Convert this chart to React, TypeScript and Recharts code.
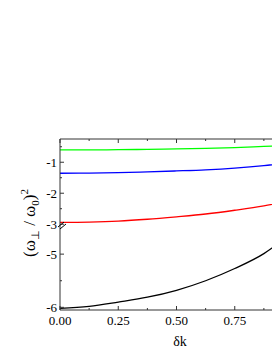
import React from 'react';
import { LineChart, Line, XAxis, YAxis } from 'recharts';

// δk sample points and the four branches
const DK = [0, 0.125, 0.25, 0.375, 0.5, 0.625, 0.75, 0.875, 1.0];
const GREEN = [-0.6, -0.6, -0.595, -0.585, -0.57, -0.555, -0.53, -0.49, -0.45];
const BLUE = [-1.355, -1.35, -1.335, -1.31, -1.28, -1.245, -1.19, -1.11, -1.0];
const RED = [-2.94, -2.93, -2.9, -2.84, -2.76, -2.67, -2.55, -2.41, -2.22];
const BLACK = [-6.02, -5.98, -5.9, -5.81, -5.68, -5.5, -5.27, -4.99, -4.58];

const X_TICKS = [0, 0.125, 0.25, 0.375, 0.5, 0.625, 0.75, 0.875, 1.0];
const X_LABELS = [0, 0.25, 0.5, 0.75];
const UPPER_TICKS = [-3, -2.5, -2, -1.5, -1, -0.5];
const LOWER_TICKS = [-6, -5.5, -5];

// broken y axis: two value ranges
const UPPER_DOMAIN = [-3.09, -0.25];
const LOWER_DOMAIN = [-6.05, -4.49];

const rows = DK.map((dk, i) => ({
  dk,
  green: GREEN[i],
  blue: BLUE[i],
  red: RED[i],
  black: BLACK[i],
}));

const FONT = '"Liberation Serif", "Times New Roman", serif';
const AXIS = '#333';

function YTick(props: any) {
  const { x, y, payload } = props;
  const v = payload.value;
  const major = Number.isInteger(v);
  return (
    <g>
      <line x1={x} y1={y} x2={x + (major ? 4 : 2)} y2={y} stroke={AXIS} />
      {major && (
        <text x={x - 3} y={y} dy={4.5} textAnchor="end" fontSize={13} fontFamily={FONT} fill="#000">
          {String(v)}
        </text>
      )}
    </g>
  );
}

function isMajorX(v: number) {
  return Math.abs(v * 4 - Math.round(v * 4)) < 1e-6;
}

function XTickBottom(props: any) {
  const { x, y, payload } = props;
  const v = payload.value;
  const major = isMajorX(v);
  return (
    <g>
      <line x1={x} y1={y} x2={x} y2={y - (major ? 4 : 2)} stroke={AXIS} />
      {X_LABELS.includes(v) && (
        <text x={x} y={y + 15} textAnchor="middle" fontSize={13} fontFamily={FONT} fill="#000">
          {v.toFixed(2)}
        </text>
      )}
    </g>
  );
}

function XTickTop(props: any) {
  const { x, y, payload } = props;
  const major = isMajorX(payload.value);
  return <line x1={x} y1={y} x2={x} y2={y + (major ? 4 : 2)} stroke={AXIS} />;
}

export default function App() {
  return (
    <div style={{ position: 'absolute', left: 0, top: 0, width: 272, height: 352, overflow: 'hidden', background: '#fff' }}>
      {/* upper segment: -3 .. -0.25 */}
      <div style={{ position: 'absolute', left: 0, top: 0 }}>
        <LineChart width={300} height={240} data={rows} margin={{ top: 109, right: 7, bottom: 13, left: 0 }}>
          <XAxis
            dataKey="dk"
            type="number"
            orientation="top"
            height={30}
            domain={[0, 1]}
            ticks={X_TICKS}
            interval={0}
            tickSize={0}
            tickMargin={0}
            tickLine={false}
            tick={(p: any) => <XTickTop {...p} />}
            axisLine={{ stroke: AXIS }}
          />
          <YAxis
            type="number"
            width={60}
            domain={UPPER_DOMAIN}
            allowDataOverflow
            ticks={UPPER_TICKS}
            interval={0}
            tickSize={0}
            tickMargin={0}
            tickLine={false}
            tick={(p: any) => <YTick {...p} />}
            axisLine={{ stroke: AXIS }}
          />
          <Line type="monotone" dataKey="green" stroke="#00ff00" strokeWidth={1.3} dot={false} isAnimationActive={false} />
          <Line type="monotone" dataKey="blue" stroke="#0000ff" strokeWidth={1.3} dot={false} isAnimationActive={false} />
          <Line type="monotone" dataKey="red" stroke="#ff0000" strokeWidth={1.3} dot={false} isAnimationActive={false} />
        </LineChart>
      </div>

      {/* lower segment: -6 .. -4.5 */}
      <div style={{ position: 'absolute', left: 0, top: 227 }}>
        <LineChart width={300} height={125} data={rows} margin={{ top: 0, right: 7, bottom: 0, left: 0 }}>
          <XAxis
            dataKey="dk"
            type="number"
            height={42}
            domain={[0, 1]}
            ticks={X_TICKS}
            interval={0}
            tickSize={0}
            tickMargin={0}
            tickLine={false}
            tick={(p: any) => <XTickBottom {...p} />}
            axisLine={{ stroke: AXIS }}
          />
          <YAxis
            type="number"
            width={60}
            domain={LOWER_DOMAIN}
            allowDataOverflow
            ticks={LOWER_TICKS}
            interval={0}
            tickSize={0}
            tickMargin={0}
            tickLine={false}
            tick={(p: any) => <YTick {...p} />}
            axisLine={{ stroke: AXIS }}
          />
          <Line type="monotone" dataKey="black" stroke="#000" strokeWidth={1.3} dot={false} isAnimationActive={false} />
        </LineChart>
      </div>

      {/* axis titles and break mark */}
      <svg width={272} height={352} style={{ position: 'absolute', left: 0, top: 0, pointerEvents: 'none' }}>
        <line x1={58} y1={227} x2={64} y2={222} stroke="#000" />
        <line x1={60} y1={229} x2={66} y2={224} stroke="#000" />
        <text transform="translate(35,223) rotate(-90)" textAnchor="middle" fontSize={17} fontFamily={FONT} fill="#000">
          (ω<tspan fontSize={11} dy={4}>⊥</tspan>
          <tspan dy={-4}> / ω</tspan>
          <tspan fontSize={11} dy={4}>0</tspan>
          <tspan dy={-4}>)</tspan>
          <tspan fontSize={11} dy={-7}>2</tspan>
        </text>
        <text x={180} y={346} textAnchor="middle" fontSize={14} fontFamily={FONT} fill="#000">
          δk
        </text>
      </svg>
    </div>
  );
}
